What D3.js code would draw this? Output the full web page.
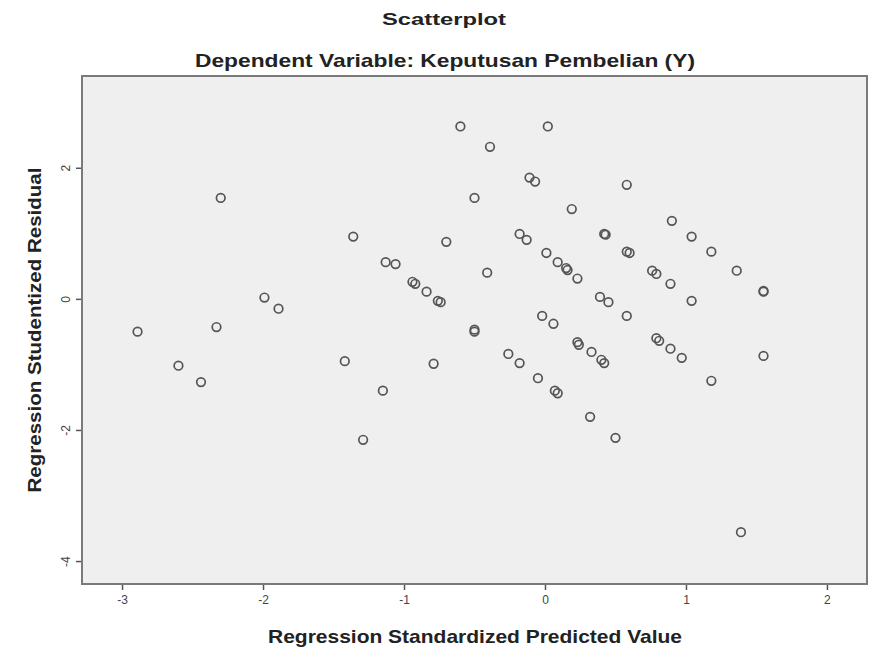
<!DOCTYPE html>
<html>
<head>
<meta charset="utf-8">
<script src="https://cdn.jsdelivr.net/npm/d3@7"></script>
<style>
  body { margin: 0; background: #ffffff; }
  text { font-family: "Liberation Sans", Arial, sans-serif; }
</style>
</head>
<body>
<div id="chart"></div>
<script>
// Regression standardized predicted value (x) and studentized residual (y)
const predicted = [
  -0.60, 0.02, -0.39, -2.30, -0.50, -0.11, -0.07, 0.58, 0.19, 0.90,
  -1.36, -0.70, -0.18, -0.13, 0.42, 0.43, 1.04, 1.18, 0.58, 0.60,
  0.01, 0.09, 0.15, 0.16, 0.23, 0.76, 0.79, 0.89, 1.36, 1.55,
  1.55, -0.41, -1.13, -1.06, -0.94, -0.92, -0.84, -0.76, -0.74, -1.99,
  -1.89, -2.89, -2.33, -2.60, -2.44, -1.42, -1.15, -1.29, -0.79, -0.50,
  -0.50, -0.02, 0.06, 0.39, 0.45, 0.58, 1.04, 0.23, 0.24, 0.33,
  0.40, 0.42, 0.79, 0.81, 0.89, 0.97, -0.26, -0.18, -0.05, 0.07,
  0.09, 0.32, 0.50, 1.18, 1.55, 1.39
];
const residual = [
  2.63, 2.63, 2.32, 1.54, 1.54, 1.85, 1.79, 1.74, 1.37, 1.19,
  0.95, 0.87, 0.99, 0.90, 0.99, 0.98, 0.95, 0.72, 0.72, 0.70,
  0.70, 0.56, 0.47, 0.44, 0.31, 0.43, 0.38, 0.23, 0.43, 0.12,
  0.11, 0.40, 0.56, 0.53, 0.26, 0.23, 0.11, -0.03, -0.05, 0.02,
  -0.15, -0.50, -0.43, -1.02, -1.27, -0.95, -1.40, -2.15, -0.99, -0.47,
  -0.50, -0.26, -0.38, 0.03, -0.05, -0.26, -0.03, -0.66, -0.70, -0.81,
  -0.93, -0.98, -0.60, -0.64, -0.76, -0.90, -0.84, -0.98, -1.21, -1.40,
  -1.44, -1.80, -2.12, -1.25, -0.87, -3.56
];
const xTicks = [-3, -2, -1, 0, 1, 2];
const yTicks = [-4, -2, 0, 2];

const width = 872, height = 649;
const margin = {top: 76, right: 5, bottom: 65, left: 82};

const svg = d3.select("#chart").append("svg")
    .attr("width", width)
    .attr("height", height);

const x = d3.scaleLinear()
    .domain([-3.284, 2.284])
    .range([margin.left, width - margin.right]);

const y = d3.scaleLinear()
    .domain([-4.35, 3.40])
    .range([height - margin.bottom, margin.top]);

// plain hyphen for negatives, like the SPSS output
const tickFmt = function (d) { return String(d); };

// plot background
svg.append("rect")
    .attr("x", margin.left)
    .attr("y", margin.top)
    .attr("width", width - margin.left - margin.right)
    .attr("height", height - margin.top - margin.bottom)
    .attr("fill", "#efefef");

// x axis
const xAxis = svg.append("g")
    .attr("transform", "translate(0," + (height - margin.bottom) + ")")
    .call(d3.axisBottom(x).tickValues(xTicks).tickSize(6).tickPadding(5).tickFormat(tickFmt));
xAxis.select(".domain").remove();
xAxis.selectAll("line").attr("stroke", "#555").attr("stroke-width", 1.5);
xAxis.selectAll("text")
    .attr("fill", "#444")
    .style("font-size", "12px");

// y axis, labels rotated like SPSS output
const yAxis = svg.append("g")
    .attr("transform", "translate(" + margin.left + ",0)")
    .call(d3.axisLeft(y).tickValues(yTicks).tickSize(6).tickFormat(tickFmt));
yAxis.select(".domain").remove();
yAxis.selectAll("line").attr("stroke", "#555").attr("stroke-width", 1.5);
yAxis.selectAll("text")
    .attr("fill", "#444")
    .style("font-size", "12px")
    .attr("x", null)
    .attr("dy", null)
    .attr("text-anchor", "middle")
    .attr("transform", "translate(-12,0) rotate(-90)");

// frame
svg.append("rect")
    .attr("x", margin.left)
    .attr("y", margin.top)
    .attr("width", width - margin.left - margin.right)
    .attr("height", height - margin.top - margin.bottom)
    .attr("fill", "none")
    .attr("stroke", "#7a7a7a")
    .attr("stroke-width", 2);

// points
svg.append("g")
    .selectAll("circle")
    .data(predicted)
    .enter()
    .append("circle")
    .attr("cx", function (d) { return x(d); })
    .attr("cy", function (d, i) { return y(residual[i]); })
    .attr("r", 4.3)
    .attr("fill", "none")
    .attr("stroke", "#555555")
    .attr("stroke-width", 1.7);

// titles
svg.append("text")
    .attr("x", 444)
    .attr("y", 25)
    .attr("text-anchor", "middle")
    .attr("font-weight", "bold")
    .attr("fill", "#222")
    .style("font-size", "17px")
    .attr("textLength", 124)
    .attr("lengthAdjust", "spacingAndGlyphs")
    .text("Scatterplot");

svg.append("text")
    .attr("x", 445)
    .attr("y", 67)
    .attr("text-anchor", "middle")
    .attr("font-weight", "bold")
    .attr("fill", "#222")
    .style("font-size", "19px")
    .attr("textLength", 500)
    .attr("lengthAdjust", "spacingAndGlyphs")
    .text("Dependent Variable: Keputusan Pembelian (Y)");

svg.append("text")
    .attr("x", 475)
    .attr("y", 643)
    .attr("text-anchor", "middle")
    .attr("font-weight", "bold")
    .attr("fill", "#222")
    .style("font-size", "19px")
    .attr("textLength", 414)
    .attr("lengthAdjust", "spacingAndGlyphs")
    .text("Regression Standardized Predicted Value");

svg.append("text")
    .attr("transform", "translate(41,330) rotate(-90)")
    .attr("text-anchor", "middle")
    .attr("font-weight", "bold")
    .attr("fill", "#222")
    .style("font-size", "19px")
    .attr("textLength", 325)
    .attr("lengthAdjust", "spacingAndGlyphs")
    .text("Regression Studentized Residual");
</script>
</body>
</html>
